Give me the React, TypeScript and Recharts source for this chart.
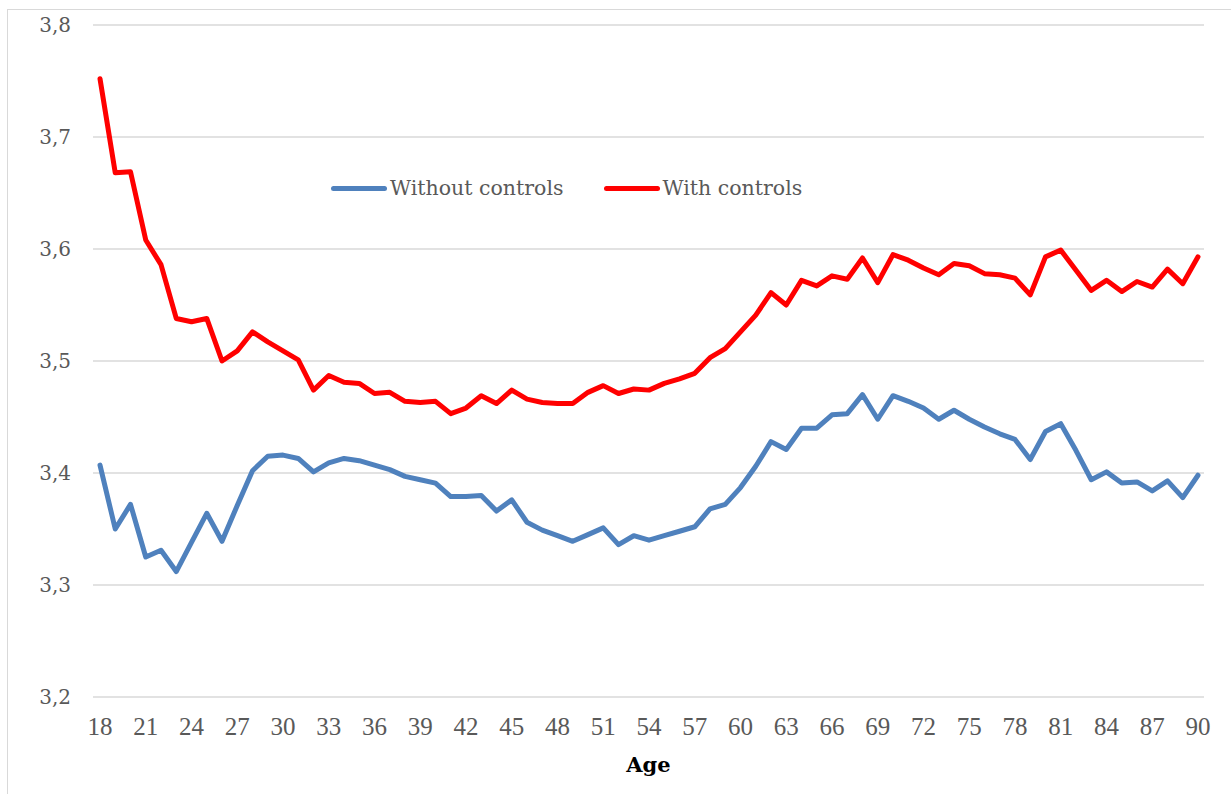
import { LineChart, Line, XAxis, YAxis, CartesianGrid, Legend } from 'recharts';

const ages = [
  18, 19, 20, 21, 22, 23, 24, 25, 26, 27, 28, 29, 30, 31, 32, 33, 34, 35, 36, 37,
  38, 39, 40, 41, 42, 43, 44, 45, 46, 47, 48, 49, 50, 51, 52, 53, 54, 55, 56, 57,
  58, 59, 60, 61, 62, 63, 64, 65, 66, 67, 68, 69, 70, 71, 72, 73, 74, 75, 76, 77,
  78, 79, 80, 81, 82, 83, 84, 85, 86, 87, 88, 89, 90,
];

const withoutControls = [
  3.407, 3.35, 3.372, 3.325, 3.331, 3.312, 3.338, 3.364, 3.339, 3.371, 3.402, 3.415, 3.416, 3.413, 3.401, 3.409, 3.413, 3.411, 3.407, 3.403,
  3.397, 3.394, 3.391, 3.379, 3.379, 3.38, 3.366, 3.376, 3.356, 3.349, 3.344, 3.339, 3.345, 3.351, 3.336, 3.344, 3.34, 3.344, 3.348, 3.352,
  3.368, 3.372, 3.387, 3.406, 3.428, 3.421, 3.44, 3.44, 3.452, 3.453, 3.47, 3.448, 3.469, 3.464, 3.458, 3.448, 3.456, 3.448, 3.441, 3.435,
  3.43, 3.412, 3.437, 3.444, 3.42, 3.394, 3.401, 3.391, 3.392, 3.384, 3.393, 3.378, 3.398,
];

const withControls = [
  3.752, 3.668, 3.669, 3.608, 3.586, 3.538, 3.535, 3.538, 3.5, 3.509, 3.526, 3.517, 3.509, 3.501, 3.474, 3.487, 3.481, 3.48, 3.471, 3.472,
  3.464, 3.463, 3.464, 3.453, 3.458, 3.469, 3.462, 3.474, 3.466, 3.463, 3.462, 3.462, 3.472, 3.478, 3.471, 3.475, 3.474, 3.48, 3.484, 3.489,
  3.503, 3.511, 3.526, 3.541, 3.561, 3.55, 3.572, 3.567, 3.576, 3.573, 3.592, 3.57, 3.595, 3.59, 3.583, 3.577, 3.587, 3.585, 3.578, 3.577,
  3.574, 3.559, 3.593, 3.599, 3.581, 3.563, 3.572, 3.562, 3.571, 3.566, 3.582, 3.569, 3.593,
];

const ageTicks = [18, 21, 24, 27, 30, 33, 36, 39, 42, 45, 48, 51, 54, 57, 60, 63, 66, 69, 72, 75, 78, 81, 84, 87, 90];
const valueTicks = [3.2, 3.3, 3.4, 3.5, 3.6, 3.7, 3.8];
const legendOrder = ['Without controls', 'With controls'];

const data = ages.map((age, i) => ({
  age,
  without: withoutControls[i],
  with: withControls[i],
}));

const renderLegend = (props: any) => {
  const items = [...(props.payload || [])].sort(
    (a: any, b: any) => legendOrder.indexOf(a.value) - legendOrder.indexOf(b.value)
  );
  return (
    <div style={{ display: 'flex', alignItems: 'center', gap: 40 }}>
      {items.map((entry: any) => (
        <div key={entry.value} style={{ display: 'flex', alignItems: 'center' }}>
          <span
            style={{
              display: 'inline-block',
              width: 56,
              height: 5,
              borderRadius: 3,
              background: entry.color,
              marginRight: 3,
            }}
          />
          <span style={{ fontFamily: '"DejaVu Serif", serif', fontSize: 20.5, color: '#595959' }}>
            {entry.value}
          </span>
        </div>
      ))}
    </div>
  );
};

export default function App() {
  return (
    <div
      style={{
        position: 'fixed',
        left: 0,
        top: 0,
        width: 1231,
        height: 794,
        overflow: 'hidden',
        background: '#ffffff',
      }}
    >
      <div
        style={{
          position: 'absolute',
          left: 7,
          top: 9,
          width: 1300,
          height: 900,
          border: '1px solid #d9d9d9',
        }}
      />
      <div style={{ position: 'absolute', left: 0, top: 0 }}>
        <LineChart
          width={1231}
          height={794}
          data={data}
          margin={{ top: 25, right: 27, left: 0, bottom: 0 }}
        >
          <CartesianGrid vertical={false} stroke="#d9d9d9" strokeWidth={1.3} />
          <XAxis
            dataKey="age"
            type="number"
            domain={[18, 90]}
            ticks={ageTicks}
            interval={0}
            padding={{ left: 7, right: 6 }}
            height={97}
            axisLine={false}
            tickLine={false}
            tickSize={0}
            tickMargin={20}
            tick={{ fontSize: 25, fill: '#595959', fontFamily: '"Liberation Serif", serif' }}
            label={{
              value: 'Age',
              position: 'insideBottom',
              offset: 22,
              style: { fontSize: 21, fontWeight: 'bold', fill: '#000000', fontFamily: '"DejaVu Serif", serif' },
            }}
          />
          <YAxis
            type="number"
            domain={[3.2, 3.8]}
            ticks={valueTicks}
            interval={0}
            width={93}
            axisLine={false}
            tickLine={false}
            tickSize={0}
            tickMargin={22}
            tickFormatter={(v: number) => v.toFixed(1).replace('.', ',')}
            tick={{ fontSize: 20, fill: '#595959', fontFamily: '"DejaVu Serif", serif' }}
          />
          <Legend
            layout="horizontal"
            verticalAlign="middle"
            align="center"
            content={renderLegend}
            wrapperStyle={{ position: 'absolute', top: 176, left: 331, width: 'auto' }}
          />
          <Line
            type="linear"
            dataKey="without"
            name="Without controls"
            stroke="#4f81bd"
            strokeWidth={5}
            strokeLinejoin="round"
            strokeLinecap="round"
            dot={false}
            isAnimationActive={false}
          />
          <Line
            type="linear"
            dataKey="with"
            name="With controls"
            stroke="#ff0000"
            strokeWidth={5}
            strokeLinejoin="round"
            strokeLinecap="round"
            dot={false}
            isAnimationActive={false}
          />
        </LineChart>
      </div>
    </div>
  );
}
